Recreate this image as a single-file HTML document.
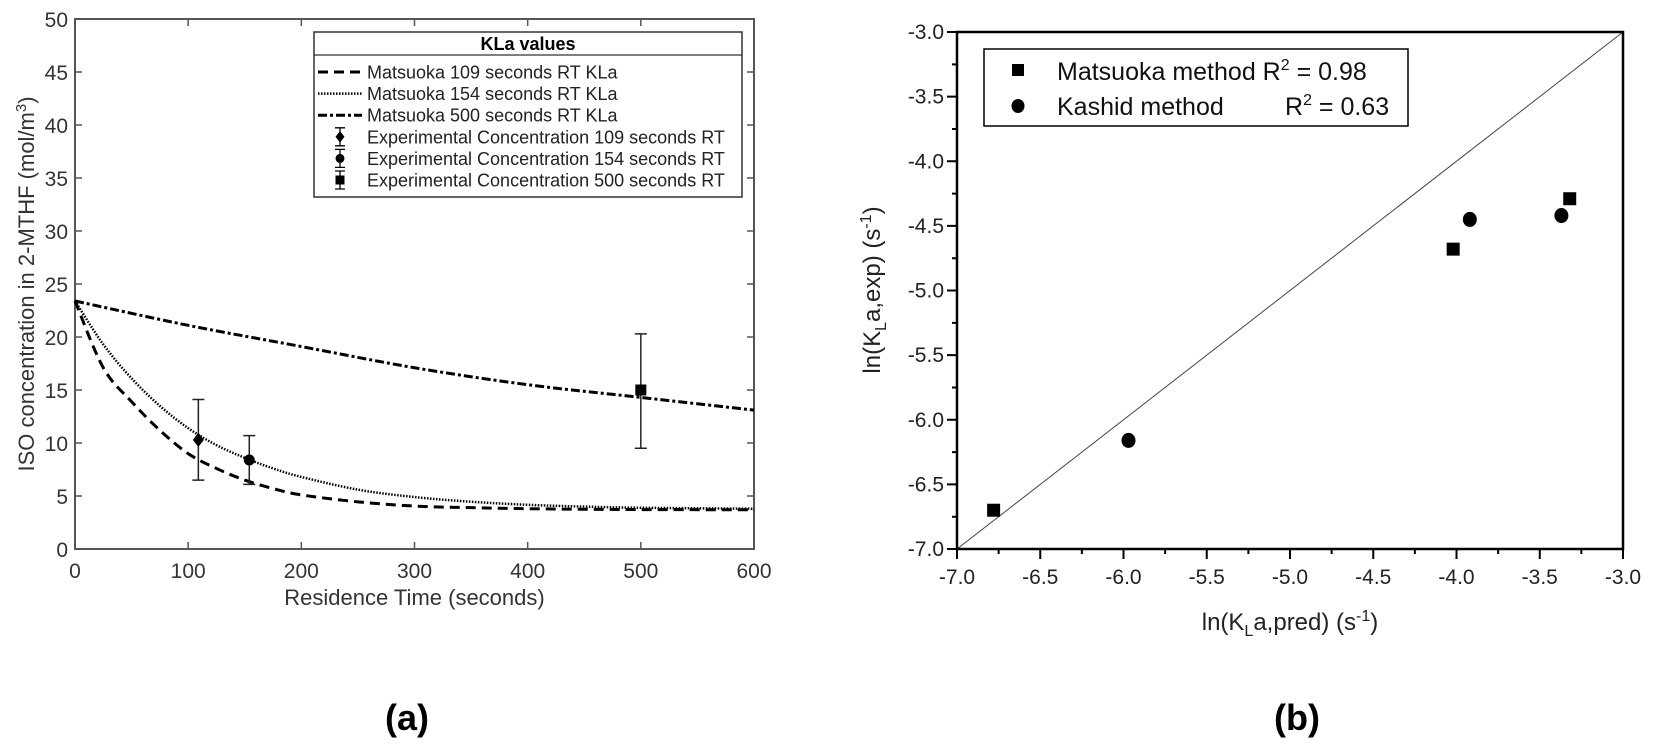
<!DOCTYPE html>
<html><head><meta charset="utf-8"><style>
html,body{margin:0;padding:0;background:#fff}
svg{display:block;font-family:"Liberation Sans",Arial,sans-serif}
</style></head><body>
<svg id="fig" width="1653" height="748" viewBox="0 0 1653 748">
<g id="chartA"></g>
<g id="chartB"></g>
<text x="407" y="730" font-size="36" font-weight="bold" text-anchor="middle">(a)</text>
<text x="1297" y="730" font-size="36" font-weight="bold" text-anchor="middle">(b)</text>
</svg>
<script>
// ---------- Chart (a) data ----------
const aXTicks = [0,100,200,300,400,500,600];
const aYTicks = [0,5,10,15,20,25,30,35,40,45,50];
const curveT = [0,25,50,75,100,125,150,175,200,250,300,350,400,450,500,600];
const curve109 = [23.4,17.1,13.9,11.2,9.0,7.6,6.5,5.7,5.1,4.45,4.05,3.9,3.8,3.75,3.72,3.7];
const curve154 = [23.4,19.3,16.1,13.5,11.4,9.8,8.6,7.6,6.8,5.6,4.9,4.46,4.17,4.0,3.89,3.8];
const curve500T = [0,100,200,300,400,500,600];
const curve500 = [23.4,21.1,19.1,17.1,15.5,14.3,13.1];
const expT = [109,154,500];
const expC = [10.3,8.4,15.0];
const expLo = [6.5,6.1,9.5];
const expHi = [14.1,10.7,20.3];
const expShape = ['diamond','circle','square'];

// ---------- Chart (b) data ----------
const bTicks = [-7.0,-6.5,-6.0,-5.5,-5.0,-4.5,-4.0,-3.5,-3.0];
const matX = [-6.78,-4.02,-3.32];
const matY = [-6.70,-4.68,-4.29];
const kasX = [-5.97,-3.92,-3.37];
const kasY = [-6.16,-4.45,-4.42];

const NS='http://www.w3.org/2000/svg';
function mk(parent,tag,attrs,text){const e=document.createElementNS(NS,tag);for(const k in attrs)e.setAttribute(k,attrs[k]);if(text!==undefined)e.textContent=text;parent.appendChild(e);return e;}

// ===== Chart A =====
const A=document.getElementById('chartA');
const aL=75,aR=754,aT=19,aB=549;
const ax=v=>aL+(v-0)/600*(aR-aL);
const ay=v=>aB-(v-0)/50*(aB-aT);
let r=mk(A,'rect',{x:aL,y:aT,width:aR-aL,height:aB-aT,fill:'none',stroke:'#555','stroke-width':2});


aXTicks.forEach(v=>{
  let t=mk(A,'path',{d:`M${ax(v)},${aB}v-7M${ax(v)},${aT}v7`,stroke:'#555','stroke-width':1.5});
  
  
  let l=mk(A,'text',{x:ax(v),y:aB+29,'font-size':21,'text-anchor':'middle',fill:'#333'},v);
  
  
});
aYTicks.forEach(v=>{
  let t=mk(A,'path',{d:`M${aL},${ay(v)}h7M${aR},${ay(v)}h-7`,stroke:'#555','stroke-width':1.5});
  
  
  let l=mk(A,'text',{x:aL-7,y:ay(v)+8,'font-size':21,'text-anchor':'end',fill:'#333'},v);
  
  
});
let xt=mk(A,'text',{x:(aL+aR)/2,y:605,'font-size':22,'text-anchor':'middle',fill:'#333'},'Residence Time (seconds)');


let yt=mk(A,'text',{x:0,y:0,'font-size':22,'text-anchor':'middle',fill:'#333',transform:`translate(34,${(aT+aB)/2}) rotate(-90)`});
yt.innerHTML='ISO concentration in 2-MTHF (mol/m<tspan dy="-8" font-size="15">3</tspan><tspan dy="8">)</tspan>';



function poly(ts,vs){return ts.map((t,i)=>(i?'L':'M')+ax(t).toFixed(1)+','+ay(vs[i]).toFixed(1)).join('');}
function smooth(ts,vs){ // catmull-rom
  const p=ts.map((t,i)=>[ax(t),ay(vs[i])]);let d=`M${p[0][0]},${p[0][1]}`;
  for(let i=0;i<p.length-1;i++){const p0=p[i-1]||p[i],p1=p[i],p2=p[i+1],p3=p[i+2]||p2;
    d+=`C${p1[0]+(p2[0]-p0[0])/6},${p1[1]+(p2[1]-p0[1])/6} ${p2[0]-(p3[0]-p1[0])/6},${p2[1]-(p3[1]-p1[1])/6} ${p2[0]},${p2[1]}`;}
  return d;}
let c1=mk(A,'path',{d:smooth(curveT,curve109),fill:'none',stroke:'#000','stroke-width':3,'stroke-dasharray':'10,6'});


let c2=mk(A,'path',{d:smooth(curveT,curve154),fill:'none',stroke:'#000','stroke-width':2.5,'stroke-dasharray':'1.5,1.5'});


let c3=mk(A,'path',{d:smooth(curve500T,curve500),fill:'none',stroke:'#000','stroke-width':3,'stroke-dasharray':'9,3,3,3'});



function marker(g,shape,x,y,s){
  if(shape==='diamond')return mk(g,'path',{d:`M${x},${y-s*1.3}L${x+s},${y}L${x},${y+s*1.3}L${x-s},${y}Z`,fill:'#000'});
  if(shape==='circle')return mk(g,'circle',{cx:x,cy:y,r:s,fill:'#000'});
  return mk(g,'rect',{x:x-s,y:y-s,width:2*s,height:2*s,fill:'#000'});
}
expT.forEach((t,i)=>{
  const x=ax(t);
  let e=mk(A,'path',{d:`M${x},${ay(expLo[i])}V${ay(expHi[i])}M${x-6},${ay(expLo[i])}h12M${x-6},${ay(expHi[i])}h12`,stroke:'#222','stroke-width':1.5});
  
  
  let m=marker(A,expShape[i],x,ay(expC[i]),5.5);
  
  
});

// legend A
const LG=mk(A,'g',{});


mk(LG,'rect',{x:314,y:32,width:428,height:165,fill:'#fff',stroke:'#333','stroke-width':1.5});
mk(LG,'line',{x1:314,y1:55,x2:742,y2:55,stroke:'#333','stroke-width':1.2});
let lt=mk(LG,'text',{x:528,y:50,'font-size':18,'font-weight':'bold','text-anchor':'middle'},'KLa values');


const legLabels=['Matsuoka 109 seconds RT KLa','Matsuoka 154 seconds RT KLa','Matsuoka 500 seconds RT KLa','Experimental Concentration 109 seconds RT','Experimental Concentration 154 seconds RT','Experimental Concentration 500 seconds RT'];
const legDash=['10,6','1.5,1.5','9,3,3,3'];
legLabels.forEach((s,i)=>{
  const y=72+i*21.6;
  if(i<3){mk(LG,'line',{x1:318,y1:y,x2:362,y2:y,stroke:'#000','stroke-width':i==1?2.5:3,'stroke-dasharray':legDash[i]});}
  else{mk(LG,'path',{d:`M340,${y-9}V${y+9}M335,${y-9}h10M335,${y+9}h10`,stroke:'#000','stroke-width':1.3});marker(LG,expShape[i-3],340,y,4.5);}
  let tx=mk(LG,'text',{x:367,y:y+6.5,'font-size':18,fill:'#222'},s);
  
  
});

// ===== Chart B =====
const B=document.getElementById('chartB');
const bL=957,bR=1623,bT=32,bB=549;
const bx=v=>bL+(v+7)/4*(bR-bL);
const by=v=>bB-(v+7)/4*(bB-bT);
let d=mk(B,'line',{x1:bx(-7),y1:by(-7),x2:bx(-3),y2:by(-3),stroke:'#444','stroke-width':1});


let fr=mk(B,'rect',{x:bL,y:bT,width:bR-bL,height:bB-bT,fill:'none',stroke:'#000','stroke-width':2.5});


bTicks.forEach((v,i)=>{
  let t=mk(B,'path',{d:`M${bx(v)},${bB}v10M${bL},${by(v)}h-10`,stroke:'#000','stroke-width':2});
  
  
  if(i<bTicks.length-1){const mv=v+0.25;
    mk(B,'path',{d:`M${bx(mv)},${bB}v5M${bL},${by(mv)}h-5`,stroke:'#000','stroke-width':2});}
  let lx=mk(B,'text',{x:bx(v),y:bB+35,'font-size':21,'text-anchor':'middle',fill:'#222'},v.toFixed(1));
  
  
  let ly=mk(B,'text',{x:bL-13,y:by(v)+7,'font-size':21,'text-anchor':'end',fill:'#222'},v.toFixed(1));
  
  
});
let bxt=mk(B,'text',{x:(bL+bR)/2,y:630,'font-size':24,'text-anchor':'middle',fill:'#222'});
bxt.innerHTML='ln(K<tspan dy="6" font-size="16">L</tspan><tspan dy="-6">a,pred) (s</tspan><tspan dy="-9" font-size="16">-1</tspan><tspan dy="9">)</tspan>';


let byt=mk(B,'text',{x:0,y:0,'font-size':24,'text-anchor':'middle',fill:'#222',transform:`translate(880,290) rotate(-90)`});
byt.innerHTML='ln(K<tspan dy="6" font-size="16">L</tspan><tspan dy="-6">a,exp) (s</tspan><tspan dy="-9" font-size="16">-1</tspan><tspan dy="9">)</tspan>';


matX.forEach((v,i)=>{
  let m=mk(B,'rect',{x:bx(v)-6.5,y:by(matY[i])-6.5,width:13,height:13,fill:'#000'});
  
  
});
kasX.forEach((v,i)=>{
  let m=mk(B,'ellipse',{cx:bx(v),cy:by(kasY[i]),rx:7,ry:7.5,fill:'#000'});
  
  
});
const LB=mk(B,'g',{});


mk(LB,'rect',{x:984,y:49,width:424,height:77,fill:'#fff',stroke:'#000','stroke-width':1.5});
mk(LB,'rect',{x:1012,y:64,width:12,height:12,fill:'#000'});
mk(LB,'ellipse',{cx:1018,cy:106,rx:6.5,ry:7,fill:'#000'});
let e1=mk(LB,'text',{x:1057,y:80,'font-size':25,fill:'#111'});
e1.innerHTML='Matsuoka method R<tspan dy="-10" font-size="16">2</tspan><tspan dy="10"> = 0.98</tspan>';


let e2=mk(LB,'text',{x:1057,y:115,'font-size':25,fill:'#111'},'Kashid method');


let e3=mk(LB,'text',{x:1285,y:115,'font-size':25,fill:'#111'});
e3.innerHTML='R<tspan dy="-10" font-size="16">2</tspan><tspan dy="10"> = 0.63</tspan>';


</script>
</body></html>
